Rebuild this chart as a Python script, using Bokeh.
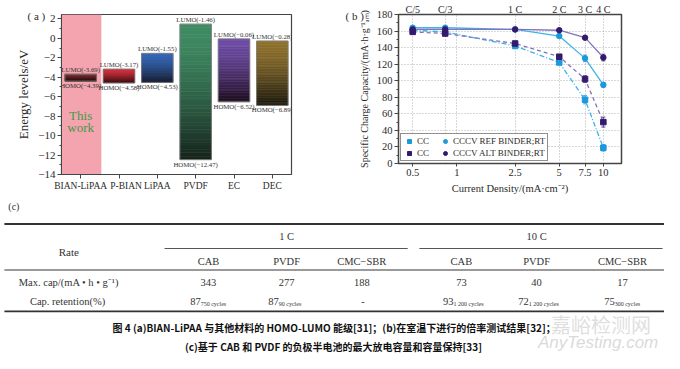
import numpy as np
from bokeh.plotting import figure
from bokeh.models import (Range1d, FixedTicker, Label, Legend, LegendItem, Whisker, Title,
                          TeeHead, CustomJSTickFormatter, BoxAnnotation, ColumnDataSource, LogAxis)
from bokeh.layouts import column, row
from bokeh.embed import file_html
from bokeh.resources import INLINE
from bokeh.core.properties import value

# ---------------- data (a) ----------------
materials = ["BIAN-LiPAA", "P-BIAN", "LiPAA", "PVDF", "EC", "DEC"]
lumo = [-3.69, -3.17, -1.55, 1.46, -0.06, -0.28]
homo = [-4.39, -4.58, -4.53, -12.47, -6.52, -6.89]
lumo_text = ["LUMO(-3.69)", "LUMO(-3.17)", "LUMO(-1.55)", "LUMO(-1.46)", "LUMO(\u22120.06)", "LUMO(\u22120.28)"]
homo_text = ["HOMO(\u22124.39)", "HOMO(\u22124.58)", "HOMO(\u22124.53)", "HOMO(\u221212.47)", "HOMO(\u22126.52)", "HOMO(\u22126.89)"]
energy_ticks = [2, 0, -2, -4, -6, -8, -10, -12, -14]

# ---------------- data (b) ----------------
current_density = [0.5, 0.833, 2.5, 5, 7.5, 10]
c_rate_labels = ["C/5", "C/3", "1 C", "2 C", "3 C", "4 C"]
density_ticks = [0.5, 1, 2.5, 5, 7.5, 10]
capacity_ticks = [0, 20, 40, 60, 80, 100, 120, 140, 160, 180]
cccv_ref = [164, 164, 162, 154, 127, 95]
cccv_ref_err = [2, 2, 1, 2, 4, 3]
cccv_alt = [162, 162, 162, 161, 152, 128]
cccv_alt_err = [2, 2, 1, 1, 2, 4]
cc_ref = [161, 159, 142, 122, 77, 19]
cc_ref_err = [2, 2, 2, 2, 5, 4]
cc_alt = [159, 157, 145, 129, 102, 50]
cc_alt_err = [2, 2, 2, 2, 4, 6]

# ---------------- data (c) ----------------
rate_groups = ["1 C", "10 C"]
binders = ["CAB", "PVDF", "CMC\u2212SBR", "CAB", "PVDF", "CMC\u2212SBR"]
max_cap = [343, 277, 188, 73, 40, 17]
retention = ["87", "87", "-", "93", "72", "75"]
retention_cycles = ["750 cycles", "90 cycles", "", "1 200 cycles", "1 200 cycles", "300 cycles"]
row_labels = ["Max. cap/(mA \u2022 h \u2022 g\u207b\u00b9)", "Cap.  retention(%)"]
caption_1 = "\u56fe 4   (a)BIAN-LiPAA \u4e0e\u5176\u4ed6\u6750\u6599\u7684 HOMO-LUMO \u80fd\u7ea7[31]\uff1b(b)\u5728\u5ba4\u6e29\u4e0b\u8fdb\u884c\u7684\u500d\u7387\u6d4b\u8bd5\u7ed3\u679c[32]\uff1b"
caption_2 = "(c)\u57fa\u4e8e CAB \u548c PVDF \u7684\u8d1f\u6781\u534a\u7535\u6c60\u7684\u6700\u5927\u653e\u7535\u5bb9\u91cf\u548c\u5bb9\u91cf\u4fdd\u6301[33]"

SERIF = "Liberation Serif"
INK = "#2a2a2a"
AXC = "#444444"


def mix(c0, c1, f):
    a = [int(c0[i:i + 2], 16) for i in (1, 3, 5)]
    b = [int(c1[i:i + 2], 16) for i in (1, 3, 5)]
    return "#%02x%02x%02x" % tuple(int(round(a[j] + (b[j] - a[j]) * f)) for j in range(3))


def style_title(t, text, offset):
    t.text = text
    t.align = "left"
    t.offset = offset
    t.standoff = -14
    t.vertical_align = "bottom"
    t.text_font = SERIF
    t.text_font_size = "11px"
    t.text_font_style = "normal"
    t.text_color = INK
    return t


# ================= (a) =================
pa = figure(x_range=materials, y_range=Range1d(-14, 2.45), width=332, height=196,
            frame_width=230, frame_height=160,
            output_backend="svg", toolbar_location=None,
            min_border_left=61, min_border_right=41, min_border_top=9, min_border_bottom=27)
style_title(pa.title, "( a )", -34)
pa.add_layout(BoxAnnotation(right=1.04, fill_color="#f4a4ae", fill_alpha=1.0,
                            line_color=None, level="underlay"))

top_cols = ["#7a3535", "#d2343f", "#3264b4", "#3f8c64", "#6e4ca6", "#8f712e"]
bot_cols = ["#2b0d0f", "#3a0e12", "#121a2c", "#15221b", "#1e0c1e", "#1b190e"]
N = 40
gx, gt, gb, gc = [], [], [], []
for m, lu, ho, c0, c1 in zip(materials, lumo, homo, top_cols, bot_cols):
    for k in range(N):
        t0, t1 = k / N, (k + 1) / N
        gx.append(m)
        gt.append(lu + (ho - lu) * t0)
        gb.append(lu + (ho - lu) * t1)
        gc.append(mix(c0, c1, ((t0 + t1) / 2) ** 1.5))
pa.vbar(x=gx, top=gt, bottom=gb, width=0.82, fill_color=gc, line_color=gc, line_width=0.6)
pa.vbar(x=materials, top=lumo, bottom=homo, width=0.82, fill_color=None,
        line_color="#808080", line_width=0.8)

pa.text(x=materials, y=lumo, text=lumo_text, text_align="center", text_baseline="bottom",
        y_offset=-1, text_font=value(SERIF), text_font_size="6.8px", text_color="#333333")
pa.text(x=materials, y=homo, text=homo_text, text_align="center", text_baseline="top",
        y_offset=1, text_font=value(SERIF), text_font_size="6.8px", text_color="#333333")

for txt, yy in (("This", -7.95), ("work", -9.15)):
    pa.add_layout(Label(x=0.5, y=yy, text=txt, text_align="center", text_baseline="middle",
                        text_font=SERIF, text_font_size="13px", text_color="#3f9a46"))

pa.yaxis.ticker = FixedTicker(ticks=energy_ticks, minor_ticks=list(range(-13, 3, 2)))
pa.yaxis.formatter = CustomJSTickFormatter(
    code="return tick < 0 ? '\\u2212' + String(-tick) : String(tick);")
pa.yaxis.axis_label = "Energy levels/eV"
pa.yaxis.axis_label_text_font = SERIF
pa.yaxis.axis_label_text_font_size = "13px"
pa.yaxis.axis_label_text_font_style = "normal"
pa.yaxis.axis_label_text_color = INK
pa.yaxis.axis_label_standoff = 4
pa.yaxis.major_label_text_font_size = "11px"
pa.xaxis.major_label_text_font_size = "9.5px"
# nudge the crowded second label a little to the right, as in the original
pa.xaxis.formatter = CustomJSTickFormatter(
    args=dict(nudge=[materials[1]]),
    code="return nudge.includes(tick) ? '\\u2002\\u2002\\u2002' + tick : tick;")
pa.axis.major_label_text_font = SERIF
pa.axis.major_label_text_color = INK
pa.axis.major_tick_out = 4
pa.axis.major_tick_in = 0
pa.axis.minor_tick_out = 2
pa.axis.minor_tick_in = 0
pa.axis.major_label_standoff = 2
pa.axis.axis_line_color = AXC
pa.axis.major_tick_line_color = AXC
pa.axis.minor_tick_line_color = AXC
pa.xgrid.visible = False
pa.ygrid.visible = False
pa.outline_line_color = AXC
pa.outline_line_width = 1.2

# ================= (b) =================
pb = figure(x_axis_type="log", x_range=Range1d(0.4, 13.3), y_range=Range1d(0, 180),
            width=332, height=196, output_backend="svg", toolbar_location=None,
            min_border_left=66, min_border_right=43, min_border_top=10, min_border_bottom=33)
# panel letter first (closest to the frame), then the C-rate axis above it
pb.add_layout(style_title(Title(), "( b )", -53), "above")

BLUE_L, BLUE_M = "#40b2e8", "#1c98dc"
PURP_L, PURP_M = "#8472bb", "#34196e"

series = [
    (cc_ref, cc_ref_err, BLUE_L, BLUE_M, "5 2 1 2", "square"),
    (cc_alt, cc_alt_err, PURP_L, PURP_M, "4 3", "square"),
    (cccv_ref, cccv_ref_err, BLUE_L, BLUE_M, "solid", "circle"),
    (cccv_alt, cccv_alt_err, PURP_L, PURP_M, "solid", "circle"),
]
marks = []
for ys, es, lc, mc, dash, mk in series:
    pb.line(current_density, ys, line_color=lc, line_width=1.3, line_dash=dash)
    src = ColumnDataSource(dict(x=current_density,
                                lo=[y - e for y, e in zip(ys, es)],
                                hi=[y + e for y, e in zip(ys, es)]))
    pb.add_layout(Whisker(source=src, base="x", lower="lo", upper="hi", line_color=mc,
                          line_width=0.8,
                          lower_head=TeeHead(size=4, line_color=mc, line_width=0.8),
                          upper_head=TeeHead(size=4, line_color=mc, line_width=0.8)))
    marks.append(pb.scatter(current_density, ys, marker=mk, size=5.5,
                            fill_color=mc, line_color=mc))

legend = Legend(items=[LegendItem(label="CC", renderers=[marks[0]]),
                       LegendItem(label="CC", renderers=[marks[1]]),
                       LegendItem(label="CCCV REF BINDER;RT", renderers=[marks[2]]),
                       LegendItem(label="CCCV ALT BINDER;RT", renderers=[marks[3]])],
                nrows=2, location="bottom_left", margin=2, padding=2, spacing=2,
                glyph_width=12, glyph_height=10, label_height=10, label_standoff=2,
                label_text_font=SERIF, label_text_font_size="9px", label_text_color=INK,
                border_line_color="#222222", border_line_width=1.5,
                background_fill_color="white", background_fill_alpha=1.0)
pb.add_layout(legend)

bx = pb.xaxis[0]
bx.ticker = FixedTicker(ticks=density_ticks, minor_ticks=[])
bx.formatter = CustomJSTickFormatter(code="return String(tick);")
bx.axis_label = "Current Density/(mA\u00b7cm\u207b\u00b2)"
bx.axis_label_standoff = 4
bx.major_tick_out = 3
bx.major_tick_in = 0
bx.major_label_standoff = 2

ly = pb.yaxis[0]
ly.ticker = FixedTicker(ticks=capacity_ticks, minor_ticks=list(range(10, 180, 20)))
ly.axis_label = "Specific Charge Capacity/(mA\u00b7h\u00b7g\u207b\u00b9\u2090\u2098)"
ly.axis_label_standoff = 4
ly.major_tick_out = 4
ly.major_tick_in = 0
ly.minor_tick_out = 2
ly.minor_tick_in = 0
ly.major_label_standoff = 2

# C-rate labels along the top edge
top_axis = LogAxis(ticker=FixedTicker(ticks=current_density, minor_ticks=[]),
                   formatter=CustomJSTickFormatter(
                       args=dict(xs=current_density, labels=c_rate_labels),
                       code="let b = 0; for (let i = 0; i < xs.length; i++) {"
                            " if (Math.abs(xs[i] - tick) < Math.abs(xs[b] - tick)) b = i; }"
                            " return labels[b];"),
                   major_tick_out=0, major_tick_in=0, major_label_standoff=0)
pb.add_layout(top_axis, "above")

pb.axis.axis_label_text_font = SERIF
pb.axis.axis_label_text_font_size = "10.5px"
pb.axis.axis_label_text_font_style = "normal"
pb.axis.axis_label_text_color = INK
pb.axis.major_label_text_font = SERIF
pb.axis.major_label_text_font_size = "10.5px"
pb.axis.major_label_text_color = INK
pb.axis.axis_line_color = AXC
pb.axis.major_tick_line_color = AXC
pb.axis.minor_tick_line_color = AXC
top_axis.major_label_text_font_size = "10px"
ly.axis_label_text_font_size = "10px"

pb.xgrid.ticker = FixedTicker(ticks=sorted(set(current_density + density_ticks)), minor_ticks=[])
pb.ygrid.ticker = FixedTicker(ticks=capacity_ticks, minor_ticks=[])
pb.grid.grid_line_color = "#9c9c9c"
pb.grid.grid_line_dash = "1 2"
pb.grid.grid_line_width = 0.8
pb.outline_line_color = AXC
pb.outline_line_width = 1.5

# ================= (c) table + caption =================
pc = figure(x_range=Range1d(0, 680), y_range=Range1d(364, 204), width=664, height=157,
            output_backend="svg", toolbar_location=None, min_border=0,
            x_axis_location=None, y_axis_location=None)
pc.grid.visible = False
pc.outline_line_color = None

col_x = [213, 293, 370, 472, 549, 637]
group_x = [293, 549]
label_x = 70
Y_GROUP, Y_BINDER, Y_MAX, Y_RET = 245, 270, 292, 311

pc.segment(x0=[4, 168, 429, 4, 4], y0=[232, 257, 257, 279, 321],
           x1=[680, 417, 678, 680, 680], y1=[232, 257, 257, 279, 321],
           line_color=["#333333", "#555555", "#555555", "#9a9a9a", "#333333"],
           line_width=[1.8, 1.0, 1.0, 2.0, 1.8])

tfont = dict(text_font=value(SERIF), text_color="#333333", text_baseline="middle")
pc.text(x=[8], y=[214], text=["(c)"], text_align="left", text_font_size="10px", **tfont)
pc.text(x=[label_x], y=[261], text=["Rate"], text_align="center", text_font_size="11px", **tfont)
pc.text(x=group_x, y=[Y_GROUP] * 2, text=rate_groups, text_align="center",
        text_font_size="10.5px", **tfont)
pc.text(x=col_x, y=[Y_BINDER] * 6, text=binders, text_align="center",
        text_font_size="10.5px", **tfont)
pc.text(x=[label_x] * 2, y=[Y_MAX, Y_RET], text=row_labels, text_align="center",
        text_font_size="10.5px", **tfont)
pc.text(x=col_x, y=[Y_MAX] * 6, text=[str(v) for v in max_cap], text_align="center",
        text_font_size="10.5px", **tfont)
num_x = [c - 8 if cy else c + 3 for c, cy in zip(col_x, retention_cycles)]
pc.text(x=num_x, y=[Y_RET] * 6, text=retention, text_align="right",
        text_font_size="10.5px", **tfont)
pc.text(x=[c - 8 for c in col_x], y=[Y_RET + 3] * 6, text=retention_cycles, text_align="left",
        text_font_size="6px", **tfont)

cap = dict(text_font=value("Noto Sans CJK SC"), text_font_style="bold", text_color="#111111",
           text_align="center", text_baseline="middle", text_font_size="10px")
pc.text(x=[344, 341], y=[337, 357], text=[caption_1, caption_2], **cap)

pc.text(x=[615], y=[334], text=["\u5609\u5cea\u68c0\u6d4b\u7f51"], text_align="center",
        text_baseline="middle", text_font=value("Noto Sans CJK SC"), text_font_size="20px",
        text_color="#c8c8c8", text_alpha=0.6)
pc.text(x=[612], y=[353], text=["AnyTesting.com"], text_align="center", text_baseline="middle",
        text_font=value("Liberation Sans"), text_font_style="italic", text_font_size="17px",
        text_color="#c0c0c0", text_alpha=0.6)

layout = column(row(pa, pb), pc)
open("out.html", "w").write(file_html(layout, INLINE))
